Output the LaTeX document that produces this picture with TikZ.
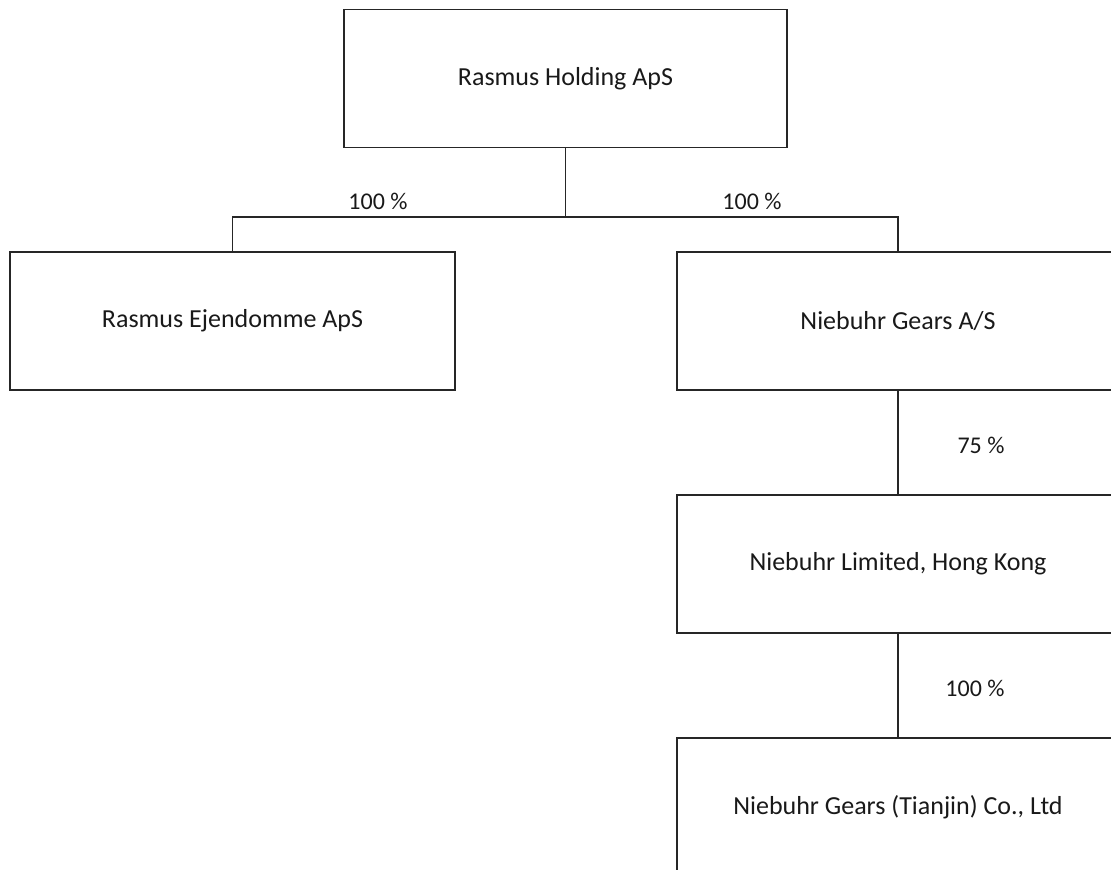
\documentclass[tikz,border=0pt]{standalone}
\usepackage{fontspec}
\setmainfont{Carlito}
\begin{document}
\begin{tikzpicture}[x=1pt,y=-1pt,
  orgbox/.style={draw=black!85,line width=1.6pt,minimum width=443pt,minimum height=138pt,inner sep=0pt,font=\fontsize{26}{31}\selectfont,text=black!90},
  link/.style={draw=black!85,line width=1.6pt},
  pct/.style={font=\fontsize{24}{29}\selectfont,text=black!90,inner sep=0pt}]
\useasboundingbox (0,0) rectangle (1111,870);
\clip (0,0) rectangle (1111,870);
\node[orgbox] (top) at (565.5,78.5) {Rasmus Holding ApS};
\node[orgbox,minimum width=445pt] (left) at (232.5,321) {Rasmus Ejendomme ApS};
\node[orgbox,minimum width=442pt] (gears) at (898,321) {Niebuhr Gears A/S};
\node[orgbox,minimum width=442pt] (hk) at (898,564) {Niebuhr Limited, Hong Kong};
\node[orgbox,minimum width=442pt] (tj) at (898,807) {Niebuhr Gears (Tianjin) Co., Ltd};
\coordinate (j) at (top.south |- 0,217);
\draw[link] (top.south) -- (j);
\draw[link] (j) -| (left.north);
\draw[link] (j) -| (gears.north);
\draw[link] (gears.south) -- (hk.north);
\draw[link] (hk.south) -- (tj.north);
\node[pct] (p1) at (378,201) {100 \%};
\node[pct] (p2) at (752,201) {100 \%};
\node[pct] (p3) at (981,445) {75 \%};
\node[pct] (p4) at (975,688) {100 \%};
\end{tikzpicture}
\end{document}
